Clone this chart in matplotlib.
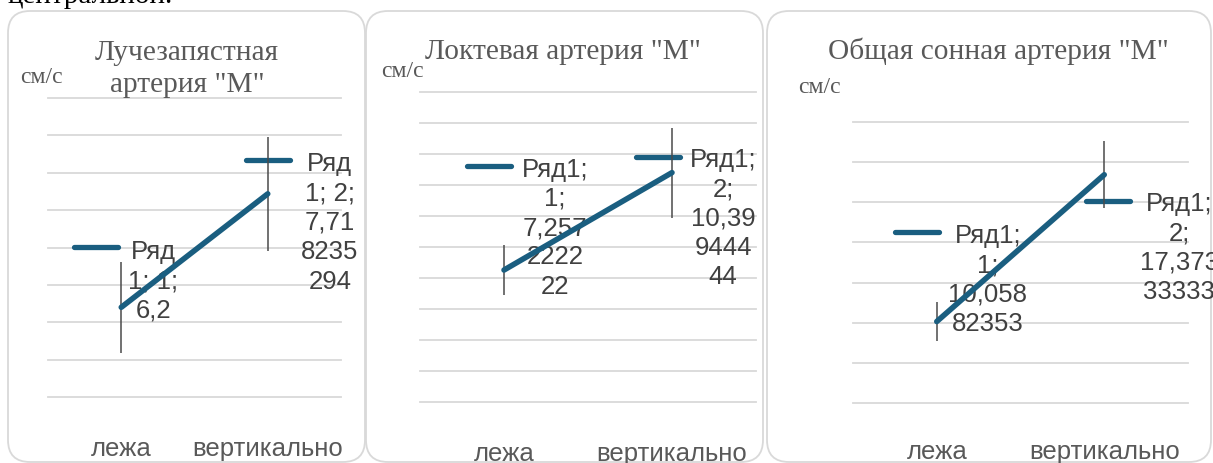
import numpy as np
import matplotlib
matplotlib.use("Agg")
import matplotlib.pyplot as plt
from matplotlib.patches import FancyBboxPatch
from matplotlib.transforms import IdentityTransform, offset_copy
from matplotlib.markers import MarkerStyle
from matplotlib.font_manager import FontProperties

# ---- data -------------------------------------------------------------
categories = ["лежа", "вертикально"]

radial_values = [6.2, 7.718235294]
radial_errors = [0.61, 0.76]

ulnar_values = [7.257222222, 10.39944444]
ulnar_errors = [0.80, 1.45]

carotid_values = [10.05882353, 17.37333333]
carotid_errors = [0.97, 1.67]

panel_titles = ['Лучезапястная\nартерия "М"',
                'Локтевая артерия "М"',
                'Общая сонная артерия "М"']
series_names = ["Ряд 1", "Ряд1", "Ряд1"]
unit_label = "см/с"
heading_tail = "центральной."

# ---- style ------------------------------------------------------------
W, H, DPI = 1213, 464, 100
BLUE = "#1A5E80"
GREY_TEXT = "#595959"
LABEL_TEXT = "#404040"
ERR = "#4A4A4A"
GRID = "#D9D9D9"
SANS = "Liberation Sans"
SERIF = "Liberation Serif"
LABEL_SIZE = 18.5

panels = [
    dict(values=radial_values, errors=radial_errors, ylim=(5, 9, 0.5),
         box=(8, 365, 12, 463), axes=(48, 341, 99, 398),
         title_xy=(187, 92), unit_xy=(20, 83), wrap_em=2.35, tick_pad=28,
         dash=[(-25.5, 60), (0, 34)], text=[(32, 68.5), (62, 42.5)]),
    dict(values=ulnar_values, errors=ulnar_errors, ylim=(3, 13, 1),
         box=(366, 763, 12, 463), axes=(420, 756, 93, 403),
         title_xy=(563, 59), unit_xy=(381, 77), wrap_em=2.7, tick_pad=28,
         dash=[(-15.5, 104), (-14.5, 16)], text=[(51, 113.5), (51, 25.5)]),
    dict(values=carotid_values, errors=carotid_errors, ylim=(6, 20, 2),
         box=(767, 1211, 12, 463), axes=(853, 1188, 123, 404),
         title_xy=(998, 59), unit_xy=(798, 93), wrap_em=3.3, tick_pad=26,
         dash=[(-19.5, 90), (4, -26)], text=[(51, 98.5), (75, -16.5)]),
]

fig = plt.figure(figsize=(W / DPI, H / DPI), dpi=DPI)
renderer = fig.canvas.get_renderer()
label_font = FontProperties(family=SANS, size=LABEL_SIZE)


def text_width(s):
    w, _, _ = renderer.get_text_width_height_descent(s, label_font, ismath=False)
    return w


def wrap_label(text, max_px):
    """Greedy word wrap; words wider than the box are split by characters."""
    lines, current = [], ""
    for word in text.split(" "):
        trial = word if not current else current + " " + word
        if text_width(trial) <= max_px:
            current = trial
            continue
        if current:
            lines.append(current)
            current = ""
        if text_width(word) <= max_px:
            current = word
            continue
        for ch in word:
            if current and text_width(current + ch) > max_px:
                lines.append(current)
                current = ch
            else:
                current += ch
    if current:
        lines.append(current)
    return "\n".join(lines)


def fmt_value(v):
    return f"{v:.10g}".replace(".", ",")


# heading fragment from the surrounding document, cut by the top edge
fig.text(8 / W, 1 - 3 / H, heading_tail, family=SERIF, fontsize=21,
         color="black", ha="left", va="baseline")

x = np.arange(len(categories))
em_px = LABEL_SIZE * DPI / 72

for p, title, series in zip(panels, panel_titles, series_names):
    bx0, bx1, bt, bb = p["box"]
    fig.patches.append(FancyBboxPatch(
        (bx0, H - bb), bx1 - bx0, bb - bt,
        boxstyle="round,pad=0,rounding_size=22",
        transform=IdentityTransform(), facecolor="white",
        edgecolor=GRID, linewidth=1.3, zorder=-1))

    ax0, ax1, at, ab = p["axes"]
    ax = fig.add_axes([ax0 / W, 1 - ab / H, (ax1 - ax0) / W, (ab - at) / H])
    ax.patch.set_alpha(0)
    lo, hi, step = p["ylim"]
    ax.set_xlim(-0.5, len(categories) - 0.5)
    ax.set_ylim(lo, hi)
    ax.set_yticks(np.arange(lo, hi + step / 2, step))
    ax.yaxis.grid(True, color=GRID, linewidth=1.3)
    for gl in ax.yaxis.get_gridlines():
        gl.set_clip_on(False)
    ax.set_axisbelow(True)
    ax.tick_params(axis="y", left=False, labelleft=False)
    ax.set_xticks(x, categories)
    ax.tick_params(axis="x", length=0, pad=p["tick_pad"],
                   labelsize=LABEL_SIZE, labelcolor=GREY_TEXT)
    for lab in ax.get_xticklabels():
        lab.set_family(SANS)
    for s in ax.spines.values():
        s.set_visible(False)

    vals, errs = p["values"], p["errors"]
    ax.plot(x, vals, color=BLUE, linewidth=4.0, solid_capstyle="round",
            zorder=5)
    ax.errorbar(x, vals, yerr=errs, fmt="none", ecolor=ERR,
                elinewidth=1.1, capsize=0, zorder=4)

    # data labels with their legend key
    for i, v in enumerate(vals):
        ddx, ddy = p["dash"][i]
        ax.plot([x[i]], [v], linestyle="none",
                marker=MarkerStyle("_", capstyle="round"),
                markersize=31.5, markeredgewidth=3.8, color=BLUE,
                transform=offset_copy(ax.transData, fig=fig, x=ddx, y=ddy,
                                      units="dots"),
                zorder=3, clip_on=False)
        label = wrap_label(f"{series}; {i + 1}; {fmt_value(v)}",
                           p["wrap_em"] * em_px)
        tdx, tdy = p["text"][i]
        ax.annotate(label, xy=(x[i], v), xytext=(tdx, tdy),
                    textcoords="offset pixels", ha="center", va="top",
                    multialignment="center", fontsize=LABEL_SIZE,
                    linespacing=1.28, family=SANS, color=LABEL_TEXT,
                    zorder=2, annotation_clip=False)

    tx, ty = p["title_xy"]
    fig.text(tx / W, 1 - ty / H, title, family=SERIF, fontsize=21.2,
             color=GREY_TEXT, ha="center", va="baseline",
             multialignment="center", linespacing=1.3)
    ux, uy = p["unit_xy"]
    fig.text(ux / W, 1 - uy / H, unit_label, family=SERIF, fontsize=17,
             color=GREY_TEXT, ha="left", va="baseline")

fig.savefig("out.png", dpi=DPI)
